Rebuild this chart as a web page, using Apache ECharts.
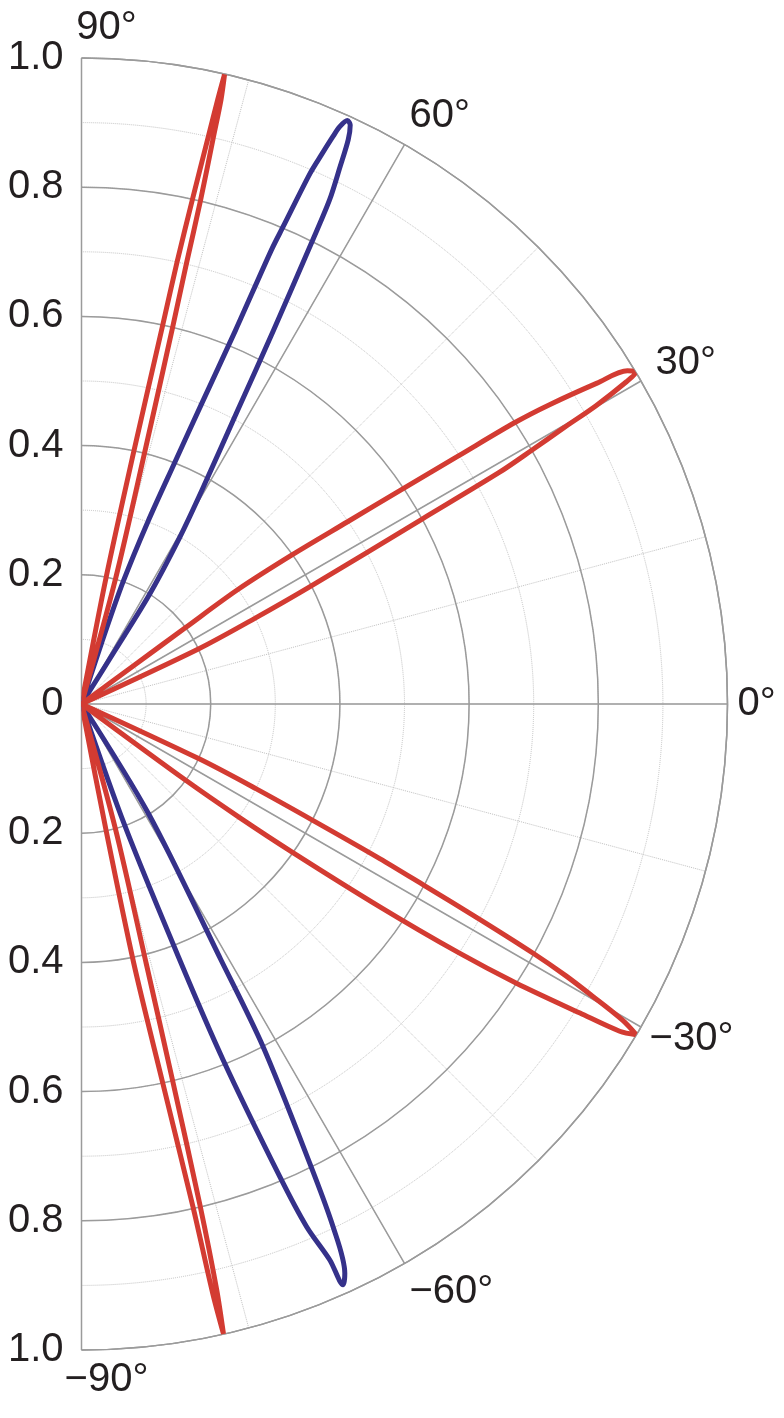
<!DOCTYPE html>
<html>
<head>
    <meta charset="UTF-8">
    <title>Polar lobes</title>
    <script src="https://cdn.jsdelivr.net/npm/echarts@6.0.0/dist/echarts.min.js"></script>
    <style>
        html, body { margin: 0; padding: 0; background: #fff; }
        #main { width: 784px; height: 1418px; }
    </style>
</head>
<body>
<div id="main"></div>
<script type="text/javascript">
    // lobe outlines as [radius, angle in degrees]
    // each one runs out from the centre along one side, round the tip and back
    var redTop = [[0, 79.5], [0.2, 79.0], [0.4, 78.3], [0.6, 77.9], [0.7, 77.8], [0.8, 77.6], [0.9, 77.4],
        [0.96, 77.3], [1.0, 77.2], [0.96, 77.0], [0.9, 76.9], [0.8, 76.7], [0.7, 76.6], [0.6, 76.4],
        [0.4, 75.9], [0.2, 74.8], [0, 74.0]];
    var blueTop = [[0, 72.0], [0.1, 71.8], [0.2, 71.2], [0.3, 70.0], [0.4, 68.9], [0.5, 68.2], [0.626, 67.6],
        [0.762, 67.3], [0.802, 67.1], [0.894, 66.7], [0.928, 66.4], [0.961, 66.1], [0.979, 65.9],
        [0.9925, 65.5], [0.988, 65.1], [0.966, 64.7], [0.923, 64.3], [0.87, 63.8], [0.8, 63.5],
        [0.65, 62.8], [0.515, 62.0], [0.379, 60.6], [0.3, 59.5], [0.2, 58.2], [0.1, 58.0], [0, 58.0]];
    var redThirty = [[0, 36.2], [0.1, 36.3], [0.2, 36.3], [0.3, 36.2], [0.4, 35.3], [0.5, 34.4], [0.6, 33.8],
        [0.7, 33.35], [0.8, 33.0], [0.86, 32.6], [0.94, 31.9], [0.99, 31.4], [1.0, 30.9], [0.98, 30.6],
        [0.92, 30.1], [0.86, 29.8], [0.8, 29.4], [0.74, 29.0], [0.6, 28.5], [0.4, 27.2], [0.3, 26.3],
        [0.2, 25.2], [0, 24.8]];
    var redMinusThirty = [[0, -24.8], [0.2, -25.0], [0.3, -25.9], [0.4, -26.7], [0.52, -27.4], [0.6, -27.9],
        [0.7, -28.4], [0.8, -28.9], [0.86, -29.3], [0.91, -29.75], [0.97, -30.3], [1.0, -30.8],
        [0.975, -31.3], [0.908, -31.8], [0.8, -32.7], [0.7, -33.4], [0.56, -34.2], [0.4, -35.1],
        [0.3, -35.7], [0.2, -36.2], [0, -36.3]];
    var blueBottom = [[0, -71.3], [0.2, -70.4], [0.424, -69.0], [0.593, -68.3], [0.793, -67.24], [0.881, -66.7],
        [0.943, -65.93], [0.986, -65.76], [0.971, -65.18], [0.898, -64.3], [0.794, -63.57], [0.6, -62.08],
        [0.45, -61.4], [0.2, -58.6], [0, -57.0]];
    var redBottom = [[0, -79.5], [0.2, -79.0], [0.41, -78.6], [0.6, -77.9], [0.797, -77.5], [0.934, -77.45],
        [1.0, -77.3], [0.93, -77.0], [0.797, -76.7], [0.6, -76.4], [0.415, -76.0], [0.2, -74.8], [0, -74.0]];

    // tick labels down the straight edge, top to bottom
    var radiusLabels = ['1.0', '0.8', '0.6', '0.4', '0.2', '0', '0.2', '0.4', '0.6', '0.8', '1.0'];

    var red = '#d33b32';
    var blue = '#35318a';
    var gridGrey = '#9b9b9b';
    var dotGrey = '#c2c2c2';
    var textColor = '#231f20';
    var labelFont = "'Liberation Sans', Arial, sans-serif";
    var labelSize = 40;

    var chart = echarts.init(document.getElementById('main'));

    function lobe(data, color) {
        return {
            type: 'line',
            coordinateSystem: 'polar',
            polarIndex: 1,
            data: data,
            symbol: 'none',
            showSymbol: false,
            smooth: 0.3,
            silent: true,
            lineStyle: {color: color, width: 5, join: 'round', cap: 'round'},
            z: 5
        };
    }

    function richLabel(extra) {
        var s = {color: textColor, fontFamily: labelFont, fontSize: labelSize};
        for (var k in extra) {
            s[k] = extra[k];
        }
        return s;
    }

    function angleText(v) {
        var s = (v < 0 ? '\u2212' + (-v) : '' + v) + '\u00b0';
        // nudge a few labels to where the figure has them
        if (Math.abs(v) === 90) {
            return '{edge|' + s + '}';
        }
        if (v === 30) {
            return '{up|' + s + '}';
        }
        if (v === -30) {
            return '{down|' + s + '}';
        }
        return s;
    }

    var option = {
        backgroundColor: '#fff',
        animation: false,
        // two identical polars: fine dotted grid underneath, solid grid and labels on top
        polar: [
            {center: [81.5, 704], radius: 646},
            {center: [81.5, 704], radius: 646}
        ],
        angleAxis: [{
            polarIndex: 0,
            type: 'value',
            min: -90,
            max: 90,
            interval: 15,
            startAngle: -90,
            endAngle: 90,
            clockwise: false,
            z: 1,
            axisLine: {show: false},
            axisTick: {show: false},
            axisLabel: {show: false},
            splitLine: {show: true, lineStyle: {color: dotGrey, width: 1, type: 'dotted'}}
        }, {
            polarIndex: 1,
            type: 'value',
            min: -90,
            max: 90,
            interval: 30,
            startAngle: -90,
            endAngle: 90,
            clockwise: false,
            z: 2,
            axisLine: {show: true, lineStyle: {color: gridGrey, width: 1.5}},
            axisTick: {show: false},
            splitLine: {show: true, lineStyle: {color: gridGrey, width: 1.5}},
            axisLabel: {
                show: true,
                margin: 10,
                color: textColor,
                fontFamily: labelFont,
                fontSize: labelSize,
                formatter: angleText,
                rich: {
                    edge: richLabel({padding: [0, 0, 0, 50]}),
                    up: richLabel({lineHeight: 26, padding: [0, 0, 0, 6]}),
                    down: richLabel({lineHeight: 14})
                }
            }
        }],
        radiusAxis: [{
            polarIndex: 0,
            type: 'value',
            min: 0,
            max: 1,
            interval: 0.1,
            z: 1,
            axisLine: {show: false},
            axisTick: {show: false},
            axisLabel: {show: false},
            splitLine: {show: true, lineStyle: {color: dotGrey, width: 1, type: 'dotted'}}
        }, {
            polarIndex: 1,
            type: 'value',
            min: 0,
            max: 1,
            interval: 0.2,
            z: 2,
            axisLine: {show: false},
            axisTick: {show: false},
            axisLabel: {show: false},
            splitLine: {show: true, lineStyle: {color: gridGrey, width: 1.5}}
        }],
        // plain cartesian axis only to carry the radius labels on the straight edge
        grid: {left: 81.5, top: 58, width: 600, height: 1292},
        xAxis: {type: 'value', show: false},
        yAxis: {
            type: 'category',
            data: radiusLabels,
            inverse: true,
            boundaryGap: false,
            axisLine: {show: false},
            axisTick: {show: false},
            splitLine: {show: false},
            axisLabel: {
                margin: 18,
                color: textColor,
                fontFamily: labelFont,
                fontSize: labelSize,
                interval: 0
            }
        },
        series: [
            lobe(blueTop, blue),
            lobe(blueBottom, blue),
            lobe(redTop, red),
            lobe(redThirty, red),
            lobe(redMinusThirty, red),
            lobe(redBottom, red)
        ]
    };

    chart.setOption(option);
</script>
</body>
</html>
